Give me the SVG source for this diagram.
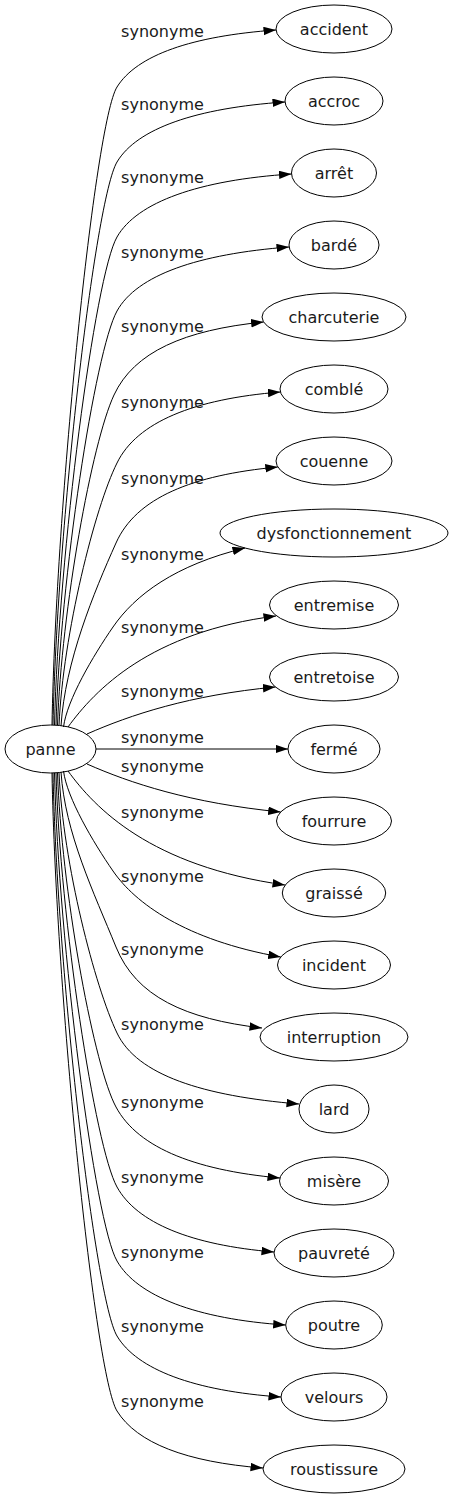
<svg xmlns="http://www.w3.org/2000/svg" width="453" height="1499" viewBox="0 0 453 1499">
<style>
.n ellipse{fill:none;stroke:#000;stroke-width:1}
text{font-family:"DejaVu Sans","Liberation Sans",sans-serif;font-size:16px;fill:#1a1a1a;text-anchor:middle}
.e path{fill:none;stroke:#000;stroke-width:1;marker-end:url(#arr)}
</style>
<defs>
<marker id="arr" markerWidth="13" markerHeight="9" refX="12.5" refY="4.25" orient="auto" markerUnits="userSpaceOnUse"><path d="M0,0 L12.5,4.25 L0,8.5 z" fill="#000"/></marker>
</defs>
<rect width="453" height="1499" fill="#fff"/>
<g id="edges" class="e">
<path d="M52,725 C56,502 95,122 117,87 C137,55 192,36 276,30"/>
<path d="M53,725 C57,528 95,199 117,162 C137,128.5 196,108 285,102"/>
<path d="M54.5,725 C58.5,554 95,275 117,237 C137,202 199,180 291.5,174"/>
<path d="M56,725 C60,580 95,351 117,311 C137,275 198,254 289,247"/>
<path d="M57.5,725 C61.5,609.5 92,442 114,395 C134,352 184,330 263.6,322"/>
<path d="M59,725.5 C63,634 95,507 117,463 C137,422 194,399 280.4,392"/>
<path d="M61,726 C65,662 94,592 116,543 C136,498 192,475 277.8,467"/>
<path d="M63.5,727 C67,700 93,656 113,627 C135,595 175,565 245,548"/>
<path d="M68,727 C95,690 150,632 276,616"/>
<path d="M87,734 C130,715 190,695 275.4,687"/>
<path d="M96,749 L288,749"/>
<path d="M87,764 C130,783 190,803 280.7,812"/>
<path d="M68,771 C95,808 150,866 285,885"/>
<path d="M63.5,771 C67,798 93,842 113,871 C135,903 185,940 280.7,957"/>
<path d="M61,772 C65,833 94,893 116,947 C136,996.5 185,1019 262,1028"/>
<path d="M59,772.5 C63,864 95,987 117,1033 C137,1075 202.5,1096 299,1104"/>
<path d="M57.5,773 C61.5,888.5 92,1056 114,1103 C134,1146 192,1170 280,1178"/>
<path d="M56,773 C60,918 95,1147 117,1187 C137,1223 191,1245 274,1252"/>
<path d="M54.5,773 C58.5,944 95,1223 117,1261 C137,1296 196,1319 285.7,1325"/>
<path d="M53,773 C57,970 95,1299 117,1336 C137,1369.5 194,1391 281,1397"/>
<path d="M52,773 C56,996 95,1376 117,1411 C137,1443 186,1462 263,1468"/>
</g>
<g id="edge-labels">
<text x="162.5" y="36.5">synonyme</text>
<text x="162.5" y="109.5">synonyme</text>
<text x="162.5" y="182.5">synonyme</text>
<text x="162.5" y="257.5">synonyme</text>
<text x="162.5" y="331.5">synonyme</text>
<text x="162.5" y="407.5">synonyme</text>
<text x="162.5" y="483.5">synonyme</text>
<text x="162.5" y="559.5">synonyme</text>
<text x="162.5" y="632.5">synonyme</text>
<text x="162.5" y="696.5">synonyme</text>
<text x="162.5" y="742.5">synonyme</text>
<text x="162.5" y="771.5">synonyme</text>
<text x="162.5" y="817.5">synonyme</text>
<text x="162.5" y="881.5">synonyme</text>
<text x="162.5" y="954.5">synonyme</text>
<text x="162.5" y="1029.5">synonyme</text>
<text x="162.5" y="1107.5">synonyme</text>
<text x="162.5" y="1182.5">synonyme</text>
<text x="162.5" y="1257.5">synonyme</text>
<text x="162.5" y="1331.5">synonyme</text>
<text x="162.5" y="1406.5">synonyme</text>
</g>
<g id="panne" class="n"><ellipse cx="50.5" cy="749" rx="45.5" ry="24"/><text x="50.5" y="754.5">panne</text></g>
<g id="accident" class="n"><ellipse cx="334" cy="29" rx="58" ry="24"/><text x="334" y="34.5">accident</text></g>
<g id="accroc" class="n"><ellipse cx="334" cy="101" rx="49" ry="24"/><text x="334" y="106.5">accroc</text></g>
<g id="arret" class="n"><ellipse cx="334" cy="173" rx="42.5" ry="24"/><text x="334" y="178.5">arrêt</text></g>
<g id="barde" class="n"><ellipse cx="334" cy="245" rx="45" ry="24"/><text x="334" y="250.5">bardé</text></g>
<g id="charcuterie" class="n"><ellipse cx="334" cy="317" rx="72" ry="24"/><text x="334" y="322.5">charcuterie</text></g>
<g id="comble" class="n"><ellipse cx="334" cy="389" rx="54" ry="24"/><text x="334" y="394.5">comblé</text></g>
<g id="couenne" class="n"><ellipse cx="334" cy="461" rx="58" ry="24"/><text x="334" y="466.5">couenne</text></g>
<g id="dysfonctionnement" class="n"><ellipse cx="334" cy="533" rx="114" ry="24"/><text x="334" y="538.5">dysfonctionnement</text></g>
<g id="entremise" class="n"><ellipse cx="334" cy="605" rx="64.5" ry="24"/><text x="334" y="610.5">entremise</text></g>
<g id="entretoise" class="n"><ellipse cx="334" cy="677" rx="64.5" ry="24"/><text x="334" y="682.5">entretoise</text></g>
<g id="ferme" class="n"><ellipse cx="334" cy="749" rx="46" ry="24"/><text x="334" y="754.5">fermé</text></g>
<g id="fourrure" class="n"><ellipse cx="334" cy="821" rx="57.5" ry="24"/><text x="334" y="826.5">fourrure</text></g>
<g id="graisse" class="n"><ellipse cx="334" cy="893" rx="51.7" ry="24"/><text x="334" y="898.5">graissé</text></g>
<g id="incident" class="n"><ellipse cx="334" cy="965" rx="56.5" ry="24"/><text x="334" y="970.5">incident</text></g>
<g id="interruption" class="n"><ellipse cx="334" cy="1037" rx="74" ry="24"/><text x="334" y="1042.5">interruption</text></g>
<g id="lard" class="n"><ellipse cx="334" cy="1109" rx="35" ry="24"/><text x="334" y="1114.5">lard</text></g>
<g id="misere" class="n"><ellipse cx="334" cy="1181" rx="54.5" ry="24"/><text x="334" y="1186.5">misère</text></g>
<g id="pauvrete" class="n"><ellipse cx="334" cy="1253" rx="60" ry="24"/><text x="334" y="1258.5">pauvreté</text></g>
<g id="poutre" class="n"><ellipse cx="334" cy="1325" rx="48.3" ry="24"/><text x="334" y="1330.5">poutre</text></g>
<g id="velours" class="n"><ellipse cx="334" cy="1397" rx="53" ry="24"/><text x="334" y="1402.5">velours</text></g>
<g id="roustissure" class="n"><ellipse cx="334" cy="1469" rx="71" ry="24"/><text x="334" y="1474.5">roustissure</text></g>
</svg>
